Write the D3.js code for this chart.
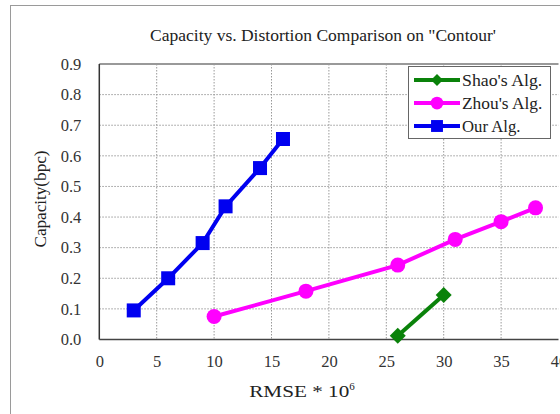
<!DOCTYPE html>
<html>
<head>
<meta charset="utf-8">
<script src="https://cdn.jsdelivr.net/npm/d3@7"></script>
<style>
  html, body { margin: 0; padding: 0; background: #fff; }
  svg { display: block; font-family: "Liberation Serif", "DejaVu Serif", serif; }
  .grid line { stroke: #999; stroke-dasharray: 1.5 1.5; stroke-width: 1; }
</style>
</head>
<body>
<svg id="chart" width="560" height="414"></svg>
<script>
// ---------- data ----------
const xTicks = [0, 5, 10, 15, 20, 25, 30, 35, 40];
const yTicks = [0.0, 0.1, 0.2, 0.3, 0.4, 0.5, 0.6, 0.7, 0.8, 0.9];

const shaoX = [26, 30];
const shaoY = [0.012, 0.145];

const zhouX = [10, 18, 26, 31, 35, 38];
const zhouY = [0.075, 0.158, 0.243, 0.327, 0.385, 0.43];

const ourX = [3, 6, 9, 11, 14, 16];
const ourY = [0.095, 0.2, 0.315, 0.435, 0.56, 0.655];

const seriesNames = ["Shao's Alg.", "Zhou's Alg.", "Our Alg."];

// ---------- layout ----------
const svg = d3.select("#chart");
const W = 560, H = 414;
const plot = { left: 99.3, right: 558.5, top: 64, bottom: 339.5 };

const x = d3.scaleLinear().domain([0, 40]).range([plot.left, plot.right]);
const y = d3.scaleLinear().domain([0, 0.9]).range([plot.bottom, plot.top]);

// outer frame (cut off at right/bottom)
svg.append("rect")
  .attr("x", 10.5).attr("y", 5.5)
  .attr("width", W).attr("height", H)
  .attr("fill", "none").attr("stroke", "#9a9a9a").attr("stroke-width", 1);

// title
svg.append("text")
  .attr("x", 323).attr("y", 41)
  .attr("text-anchor", "middle")
  .attr("font-size", 16)
  .attr("textLength", 346).attr("lengthAdjust", "spacingAndGlyphs")
  .attr("fill", "#222")
  .text("Capacity vs. Distortion Comparison on \"Contour'");

// grid
const grid = svg.append("g").attr("class", "grid");
grid.selectAll(".gx").data(xTicks.filter(d => d > 0 && d < 40)).join("line")
  .attr("x1", d => x(d)).attr("x2", d => x(d))
  .attr("y1", plot.top).attr("y2", plot.bottom);
grid.selectAll(".gy").data(yTicks.filter(d => d > 0 && d < 0.9)).join("line")
  .attr("x1", plot.left).attr("x2", plot.right)
  .attr("y1", d => y(d)).attr("y2", d => y(d));

// tick labels through d3 axes; frame lines drawn separately
const xAxis = svg.append("g")
  .attr("transform", `translate(0,${plot.bottom})`)
  .call(d3.axisBottom(x).tickValues(xTicks).tickSize(0).tickPadding(16).tickFormat(d3.format("d")));
const yAxis = svg.append("g")
  .attr("transform", `translate(${plot.left},0)`)
  .call(d3.axisLeft(y).tickValues(yTicks).tickSize(0).tickPadding(18).tickFormat(d3.format(".1f")));
[xAxis, yAxis].forEach(a => {
  a.attr("font-family", null).attr("font-size", null);
  a.select(".domain").remove();
  a.selectAll("text")
    .attr("fill", "#333")
    .style("font-family", "'Liberation Serif', serif")
    .style("font-size", "16.5px");
});

// plot frame
svg.append("line")
  .attr("x1", plot.left).attr("x2", plot.right)
  .attr("y1", plot.top).attr("y2", plot.top)
  .attr("stroke", "#999").attr("stroke-width", 2);
svg.append("line")
  .attr("x1", plot.left).attr("x2", plot.left)
  .attr("y1", plot.top).attr("y2", plot.bottom)
  .attr("stroke", "#333").attr("stroke-width", 1.5);
svg.append("line")
  .attr("x1", plot.left).attr("x2", plot.right)
  .attr("y1", plot.bottom).attr("y2", plot.bottom)
  .attr("stroke", "#444").attr("stroke-width", 1.5);

// axis titles
const xt = svg.append("text")
  .attr("x", 302).attr("y", 397)
  .attr("text-anchor", "middle")
  .attr("font-size", 17).attr("fill", "#222");
xt.append("tspan").attr("textLength", 100).attr("lengthAdjust", "spacingAndGlyphs").text("RMSE * 10");
xt.append("tspan").attr("dy", -7).attr("font-size", 11).text("6");

svg.append("text")
  .attr("transform", "translate(46,199) rotate(-90)")
  .attr("text-anchor", "middle")
  .attr("font-size", 16).attr("fill", "#222")
  .attr("textLength", 97).attr("lengthAdjust", "spacingAndGlyphs")
  .text("Capacity(bpc)");

// ---------- series ----------
const series = [
  { name: seriesNames[0], xs: shaoX, ys: shaoY, color: "#0a820a", marker: "diamond" },
  { name: seriesNames[1], xs: zhouX, ys: zhouY, color: "#ff00ff", marker: "circle" },
  { name: seriesNames[2], xs: ourX, ys: ourY, color: "#0000f0", marker: "square" }
];

function drawMarker(sel, type, color, cx, cy, scale) {
  const s = scale || 1;
  if (type === "diamond") {
    const h = 8 * s;
    sel.append("path")
      .attr("d", `M${cx},${cy - h}L${cx + h},${cy}L${cx},${cy + h}L${cx - h},${cy}Z`)
      .attr("fill", color);
  } else if (type === "circle") {
    sel.append("circle").attr("cx", cx).attr("cy", cy).attr("r", 7.5 * s).attr("fill", color);
  } else {
    const h = 7 * s;
    sel.append("rect").attr("x", cx - h).attr("y", cy - h)
      .attr("width", 2 * h).attr("height", 2 * h).attr("fill", color);
  }
}

const line = d3.line().x(d => x(d[0])).y(d => y(d[1]));
series.forEach(s => {
  const pts = s.xs.map((v, i) => [v, s.ys[i]]);
  const g = svg.append("g");
  g.append("path").attr("d", line(pts))
    .attr("fill", "none").attr("stroke", s.color).attr("stroke-width", 4);
  pts.forEach(p => drawMarker(g, s.marker, s.color, x(p[0]), y(p[1])));
});

// ---------- legend ----------
const lg = svg.append("g");
lg.append("rect")
  .attr("x", 408.5).attr("y", 66.5).attr("width", 142).attr("height", 72)
  .attr("fill", "#fff").attr("stroke", "#666").attr("stroke-width", 1);
series.forEach((s, i) => {
  const cy = 80 + i * 23;
  lg.append("line").attr("x1", 414).attr("x2", 460).attr("y1", cy).attr("y2", cy)
    .attr("stroke", s.color).attr("stroke-width", 4);
  drawMarker(lg, s.marker, s.color, 437, cy, s.marker === "diamond" ? 0.75 : 0.85);
  lg.append("text").attr("x", 462).attr("y", cy + 5.5)
    .attr("font-size", 17).attr("fill", "#222")
    .attr("textLength", s.name.length * 7.3).attr("lengthAdjust", "spacingAndGlyphs")
    .text(s.name);
});
</script>
</body>
</html>
